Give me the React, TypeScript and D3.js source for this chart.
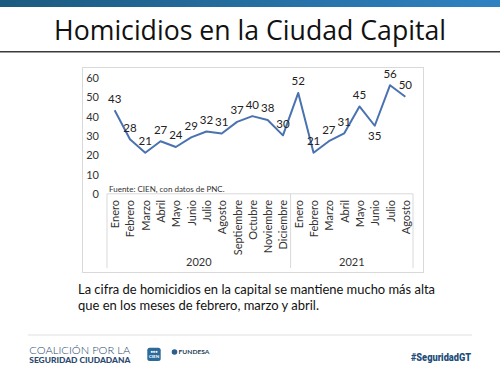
import React from "react";
import * as d3 from "d3";

const months2020 = ["Enero","Febrero","Marzo","Abril","Mayo","Junio","Julio","Agosto","Septiembre","Octubre","Noviembre","Diciembre"];
const months2021 = ["Enero","Febrero","Marzo","Abril","Mayo","Junio","Julio","Agosto"];
const values2020 = [43,28,21,27,24,29,32,31,37,40,38,30];
const values2021 = [52,21,27,31,45,35,56,50];
const years = ["2020","2021"];
const yTicks = [0,10,20,30,40,50,60];
const labelsBelow = [17];

const categories = [
  ...months2020.map((m) => ({ month: m, year: "2020" })),
  ...months2021.map((m) => ({ month: m, year: "2021" })),
];
const values = [...values2020, ...values2021];

export default function App() {
  const W = 500, H = 375;
  const x = d3.scaleBand<number>().domain(d3.range(categories.length)).range([107, 413]).padding(0);
  const y = d3.scaleLinear().domain([0, 60]).range([193.3, 77.5]);
  const cx = (i: number) => (x(i) as number) + x.bandwidth() / 2;
  const line = d3.line<number>().x((_, i) => cx(i)).y((d) => y(d));

  const groups = years.map((yr) => {
    const idx = categories.map((c, i) => (c.year === yr ? i : -1)).filter((i) => i >= 0);
    const start = x(idx[0]) as number;
    const end = (x(idx[idx.length - 1]) as number) + x.bandwidth();
    return { yr, start, end };
  });

  const font = "Lato, 'Open Sans', sans-serif";
  const axisColor = "#d9d9d9";
  const textColor = "#333";

  return (
    <svg width={W} height={H} style={{ position: "fixed", left: 0, top: 0 }} fontFamily={font}>
      <defs>
        <linearGradient id="topbar" x1="0" x2="1" y1="0" y2="0">
          <stop offset="0%" stopColor="#1c5a80" />
          <stop offset="100%" stopColor="#2f82c2" />
        </linearGradient>
      </defs>
      <rect x={0} y={0} width={W} height={H} fill="#fff" />
      <rect x={0} y={0} width={W} height={7} fill="url(#topbar)" />
      <text x={250} y={40} textAnchor="middle" fontSize={27} fill="#111" fontFamily="'Open Sans', sans-serif" textLength={392} lengthAdjust="spacingAndGlyphs">
        Homicidios en la Ciudad Capital
      </text>
      <line x1={0} x2={W} y1={51.7} y2={51.7} stroke="#3a3a3a" strokeWidth={1.5} />

      {/* chart box */}
      <rect x={82.5} y={67.5} width={341} height={205} fill="#fff" stroke="#d9d9d9" strokeWidth={1} />

      {/* y axis labels */}
      {yTicks.map((t) => (
        <text key={t} x={99} y={y(t)} textAnchor="end" dominantBaseline="central" fontSize={11} fill={textColor}>
          {t}
        </text>
      ))}

      {/* category axis */}
      <line x1={107} x2={413} y1={193.8} y2={193.8} stroke={axisColor} strokeWidth={1} />
      {groups.map((g, i) => (
        <g key={g.yr}>
          {i === 0 && <line x1={g.start} x2={g.start} y1={193.8} y2={268} stroke={axisColor} />}
          <line x1={g.end} x2={g.end} y1={193.8} y2={268} stroke={axisColor} />
          <text x={(g.start + g.end) / 2} y={261} textAnchor="middle" dominantBaseline="central" fontSize={11} fill={textColor}>
            {g.yr}
          </text>
        </g>
      ))}
      {categories.map((c, i) => (
        <text key={i} transform={`translate(${cx(i)},200) rotate(-90)`} textAnchor="end" dominantBaseline="central" fontSize={11} fill={textColor}>
          {c.month}
        </text>
      ))}

      <text x={109} y={189} fontSize={8} fill={textColor} dominantBaseline="central">Fuente: CIEN, con datos de PNC.</text>

      {/* line */}
      <path d={line(values) || ""} fill="none" stroke="#4a72b0" strokeWidth={2} strokeLinejoin="round" />
      {values.map((v, i) => (
        <text key={i} x={cx(i)} y={y(v) + (labelsBelow.includes(i) ? 10 : -12)} textAnchor="middle" dominantBaseline="central" fontSize={11.5} fill="#222">
          {v}
        </text>
      ))}

      {/* paragraph */}
      <text x={78} y={294} fontSize={13.5} fill="#111" textLength={357} lengthAdjust="spacingAndGlyphs">
        La cifra de homicidios en la capital se mantiene mucho más alta
      </text>
      <text x={78} y={309.5} fontSize={13.5} fill="#111" textLength={241} lengthAdjust="spacingAndGlyphs">
        que en los meses de febrero, marzo y abril.
      </text>

      {/* footer */}
      <line x1={28} x2={472} y1={335} y2={335} stroke="#e0e0e0" strokeWidth={1} />
      <text x={29.3} y={354} fontSize={9} fill="#2a4a6e" fontWeight={300} textLength={101} lengthAdjust="spacingAndGlyphs">COALICIÓN POR LA</text>
      <text x={29.3} y={363} fontSize={7} fill="#2a4a6e" fontWeight={900} textLength={101} lengthAdjust="spacingAndGlyphs">SEGURIDAD CIUDADANA</text>
      <rect x={147.3} y={347.7} width={13.4} height={13.4} rx={2.5} fill="#2b6a9a" />
      <text x={154} y={357.5} fontSize={4.5} fill="#fff" fontWeight={700} textAnchor="middle">CIEN</text>
      <text x={154} y={352.5} fontSize={4} fill="#fff" textAnchor="middle">●●●</text>
      <circle cx={174.5} cy={352} r={2.8} fill="#2b5f8f" />
      <text x={178.5} y={354} fontSize={6} fill="#2a3f5c" fontWeight={700} textLength={31} lengthAdjust="spacingAndGlyphs">FUNDESA</text>
      <text x={471} y={360.5} fontSize={10.5} fill="#1d4e7a" fontWeight={900} textAnchor="end" fontFamily="'Roboto', sans-serif" textLength={60} lengthAdjust="spacingAndGlyphs">#SeguridadGT</text>
    </svg>
  );
}
